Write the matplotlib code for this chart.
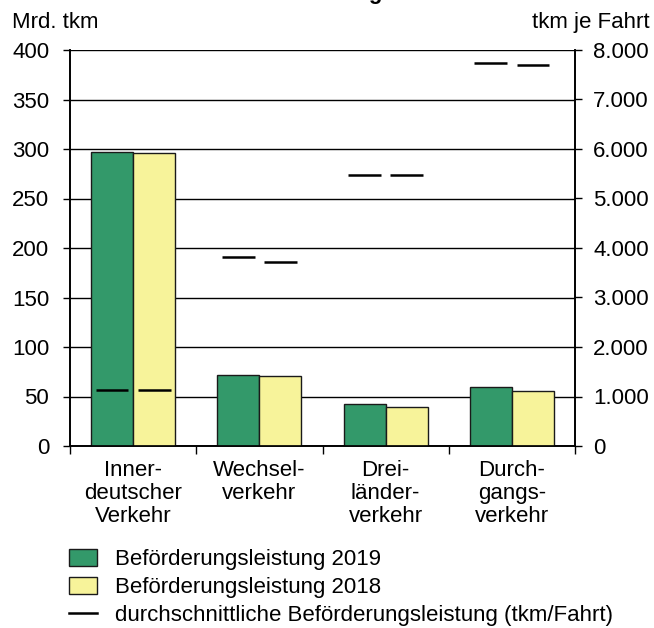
import numpy as np
import matplotlib
matplotlib.use("Agg")
import matplotlib.pyplot as plt
from matplotlib.patches import Patch
from matplotlib.lines import Line2D
from matplotlib.ticker import FuncFormatter

plt.rcParams["font.family"] = ["Liberation Sans", "DejaVu Sans"]

categories = ["Inner-\ndeutscher\nVerkehr", "Wechsel-\nverkehr", "Drei-\nländer-\nverkehr", "Durch-\ngangs-\nverkehr"]
leistung_2019 = [297, 72, 42.5, 59.5]     # Mrd. tkm
leistung_2018 = [295.5, 70.5, 39, 55.5]
avg_2019 = [1130, 3810, 5475, 7745]       # tkm je Fahrt
avg_2018 = [1130, 3710, 5475, 7690]
labels = ["Beförderungsleistung 2019", "Beförderungsleistung 2018",
          "durchschnittliche Beförderungsleistung (tkm/Fahrt)"]

green = "#33996a"
yellow = "#f7f39a"
fs = 16

fig = plt.figure(figsize=(6.54, 6.28), dpi=100)
ax = fig.add_axes([70 / 654, 1 - 446 / 628, 505 / 654, 396 / 628])
ax2 = ax.twinx()

x = np.arange(len(categories))
w = 1 / 3
ax.set_axisbelow(True)
ax.bar(x - w / 2, leistung_2019, w, color=green, edgecolor="#1a1a1a", linewidth=1, zorder=3)
ax.bar(x + w / 2, leistung_2018, w, color=yellow, edgecolor="#1a1a1a", linewidth=1, zorder=3)

lw_frac = 0.78
ax2.hlines(avg_2019, x - w / 2 - w * lw_frac / 2, x - w / 2 + w * lw_frac / 2, color="black", lw=1.8)
ax2.hlines(avg_2018, x + w / 2 - w * lw_frac / 2, x + w / 2 + w * lw_frac / 2, color="black", lw=1.8)

ax.set_xlim(-0.5, 3.5)
ax.set_ylim(0, 400)
ax2.set_ylim(0, 8000)
ax.set_yticks(np.arange(0, 401, 50))
ax2.set_yticks(np.arange(0, 8001, 1000))
ax2.yaxis.set_major_formatter(FuncFormatter(lambda v, p: f"{int(v):,}".replace(",", ".")))

ax.yaxis.grid(True, color="black", lw=1)
ax.set_xticks(np.arange(-0.5, 4, 1))
ax.set_xticklabels([])
ax.set_xticks(x, minor=True)
ax.set_xticklabels(categories, minor=True, fontsize=fs, linespacing=1.12)
ax.tick_params(axis="x", which="major", length=6, width=1, direction="out")
ax.tick_params(axis="x", which="minor", length=0, pad=10)
ax.tick_params(axis="y", length=5, width=1, labelsize=fs, pad=10)
ax2.tick_params(axis="y", length=5, width=1, labelsize=fs, pad=8)

for a in (ax, ax2):
    a.spines["top"].set_visible(False)
    for s in ("left", "right", "bottom"):
        a.spines[s].set_linewidth(1.2)

fig.text(12 / 654, 1 - 28 / 628, "Mrd. tkm", fontsize=fs, ha="left", va="baseline")
fig.text(650 / 654, 1 - 28 / 628, "tkm je Fahrt", fontsize=fs, ha="right", va="baseline")
# title sits above the crop, only the descender of its last letter shows
fig.text(383 / 654, 1 + 1 / 628, "Verkehrsleistung", fontsize=fs, fontweight="bold",
         ha="right", va="baseline")

handles = [Patch(facecolor=green, edgecolor="#1a1a1a", lw=1),
           Patch(facecolor=yellow, edgecolor="#1a1a1a", lw=1),
           Line2D([], [], color="black", lw=1.8)]
fig.legend(handles, labels, loc="upper left", bbox_to_anchor=(58 / 654, 1 - 538 / 628),
           frameon=False, fontsize=fs, handlelength=1.25, handleheight=0.75,
           handletextpad=0.8, labelspacing=0.32, borderpad=0)

fig.savefig("out.png", dpi=100)
